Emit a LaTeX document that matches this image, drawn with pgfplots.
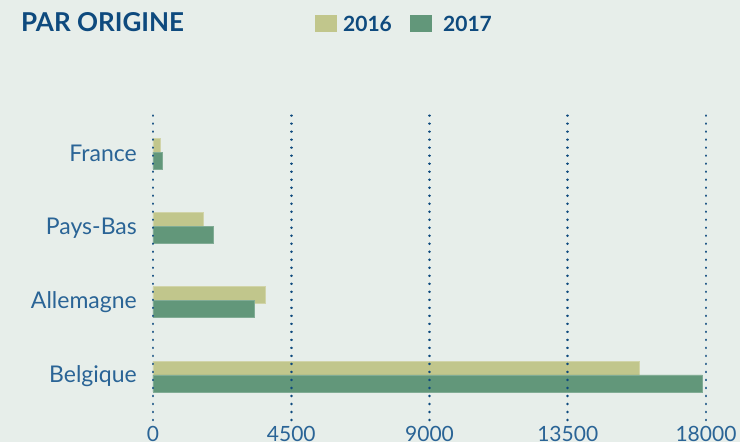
\documentclass[border=0pt]{standalone}
\usepackage{fontspec}
\setmainfont{Lato}
\usepackage{pgfplots}
\pgfplotsset{compat=1.18}
\definecolor{bg}{HTML}{E7EEEA}
\definecolor{c2016}{HTML}{C1C68C}
\definecolor{c2017}{HTML}{62977A}
\definecolor{navy}{HTML}{0E4A7E}
\definecolor{lblue}{HTML}{2A6496}
\begin{document}
\begin{tikzpicture}
\fill[bg] (0pt,0pt) rectangle (740pt,442pt);
\path[use as bounding box] (0pt,0pt) rectangle (740pt,442pt);
% title and legend
\node[anchor=base west, inner sep=0, text=navy, font=\fontsize{26}{26}\selectfont\bfseries] at (21pt,410pt) {PAR ORIGINE};
\fill[c2016] (315pt,410pt) rectangle (337pt,427pt);
\node[anchor=base west, inner sep=0, text=navy, font=\fontsize{21}{21}\selectfont\bfseries] at (343pt,410pt) {2016};
\fill[c2017] (410pt,410pt) rectangle (432pt,427pt);
\node[anchor=base west, inner sep=0, text=navy, font=\fontsize{21}{21}\selectfont\bfseries] at (443pt,410pt) {2017};
\begin{axis}[
    at={(153pt,22pt)}, anchor=south west,
    scale only axis,
    width=553pt, height=308pt,
    xmin=0, xmax=18000,
    ymin=-0.586, ymax=3.562,
    xbar, bar width=0.229,
    xtick={0,4500,9000,13500,18000},
    scaled x ticks=false,
    ytick={0,1,2,3},
    yticklabels={Belgique,Allemagne,Pays-Bas,France},
    /pgf/number format/assume math mode=true,
    /pgf/number format/1000 sep={},
    axis line style={draw=none},
    major tick length=0pt,
    tick style={draw=none},
    xmajorgrids,
    major grid style={navy, line width=2.6pt, line cap=round, dash pattern=on 0.01pt off 8pt},
    axis on top,
    x tick label style={anchor=north, inner sep=0pt, yshift=-6pt, text=lblue,
        font=\fontsize{21}{21}\selectfont},
    y tick label style={anchor=east, inner sep=0pt, xshift=-16pt, text=lblue,
        font=\fontsize{23}{23}\selectfont},
]
\addplot[fill=c2016, draw=c2016!75!white, line width=0.7pt, bar shift=0.094]
    coordinates {(15820,0) (3650,1) (1630,2) (230,3)};
\addplot[fill=c2017, draw=c2017!80!white, line width=0.7pt, bar shift=-0.094]
    coordinates {(17880,0) (3290,1) (1960,2) (290,3)};
\end{axis}
\end{tikzpicture}
\end{document}
